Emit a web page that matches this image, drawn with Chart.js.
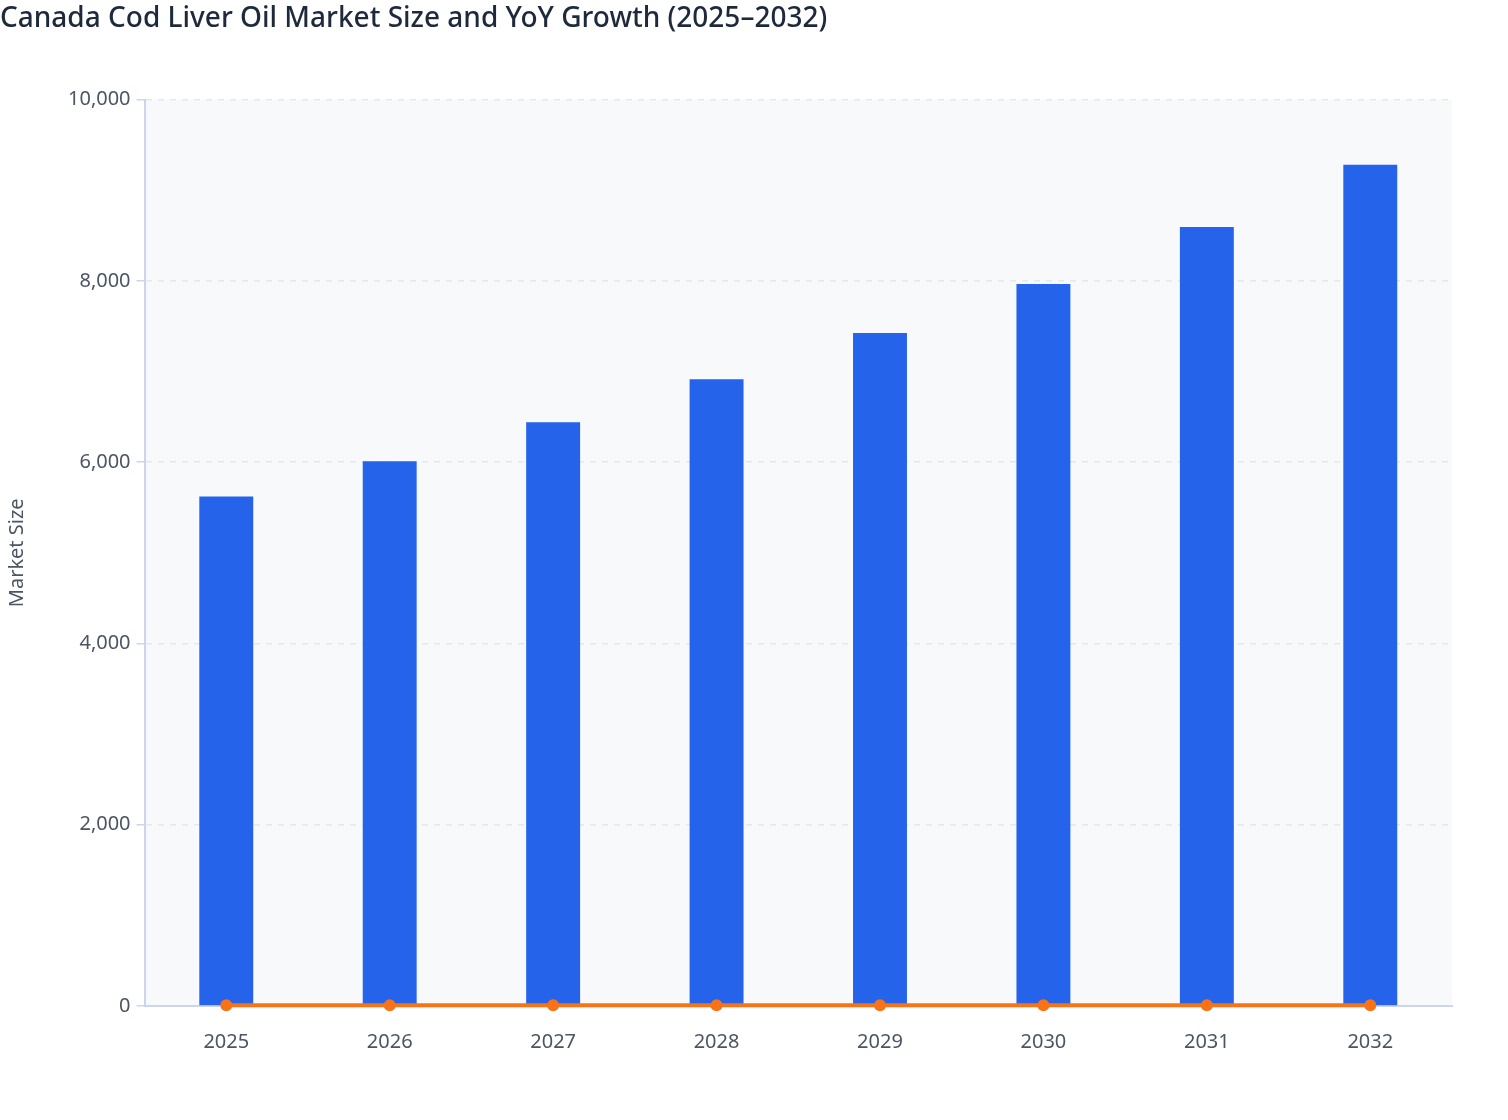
<!DOCTYPE html>
<html lang="en">
<head>
    <meta charset="UTF-8" />
    <title>Canada Cod Liver Oil Market</title>
    <script src="https://cdn.jsdelivr.net/npm/chart.js@4.4.1/dist/chart.umd.min.js"></script>
    <style>
        html, body { margin: 0; padding: 0; background: #ffffff; }
        #wrap { width: 1508px; height: 1120px; position: relative; }
    </style>
</head>
<body>
    <div id="wrap"><canvas id="myChart"></canvas></div>
    <script>
        // values
        const years = ['2025', '2026', '2027', '2028', '2029', '2030', '2031', '2032']
        const marketSize = [5620, 6010, 6440, 6915, 7425, 7965, 8595, 9280]
        const yoyGrowth = [7.0, 6.9, 7.2, 7.4, 7.4, 7.3, 7.9, 8.0]
        const yTicks = [0, 2000, 4000, 6000, 8000, 10000]

        const plotBg = {
            id: 'plotBg',
            beforeDraw(chart) {
                const a = chart.chartArea
                const ctx = chart.ctx
                ctx.save()
                ctx.fillStyle = '#f8f9fb'
                ctx.fillRect(a.left, a.top, a.right - a.left, a.bottom - a.top)
                ctx.restore()
            }
        }

        Chart.defaults.font.family = '"Noto Sans", sans-serif'

        const ctx = document.getElementById('myChart').getContext('2d')
        const chart = new Chart(ctx, {
            type: 'bar',
            data: {
                labels: years,
                datasets: [
                    {
                        type: 'line',
                        label: 'YoY Growth',
                        data: yoyGrowth,
                        borderColor: '#f97316',
                        backgroundColor: '#f97316',
                        borderWidth: 4,
                        pointRadius: 6,
                        pointHoverRadius: 6,
                        pointBorderWidth: 0,
                        fill: false,
                        clip: false,
                        tension: 0
                    },
                    {
                        label: 'Market Size',
                        data: marketSize,
                        backgroundColor: '#2563eb',
                        borderWidth: 0,
                        categoryPercentage: 0.66,
                        barPercentage: 0.5
                    }
                ]
            },
            options: {
                responsive: true,
                maintainAspectRatio: false,
                animation: false,
                layout: { padding: { left: 0, right: 56, top: 0, bottom: 54 } },
                plugins: {
                    legend: { display: false },
                    tooltip: { enabled: false },
                    title: {
                        display: true,
                        text: 'Canada Cod Liver Oil Market Size and YoY Growth (2025\u20132032)',
                        align: 'start',
                        color: '#1e293b',
                        font: { size: 28, weight: '500' },
                        padding: { top: 2, bottom: 64 }
                    }
                },
                scales: {
                    x: {
                        grid: { display: false, drawOnChartArea: false, drawTicks: true, tickLength: 12, color: '#cbd5ef' },
                        border: { color: '#cbd5ef', width: 2 },
                        ticks: { color: '#4b5563', font: { size: 20 }, padding: 12 }
                    },
                    y: {
                        min: 0,
                        max: 10000,
                        afterBuildTicks(axis) { axis.ticks = yTicks.map(v => ({ value: v })) },
                        grid: {
                            color: '#e5e7eb',
                            lineWidth: 1.5,
                            tickLength: 8,
                            tickColor: '#cbd5ef',
                            tickBorderDash: [],
                        },
                        border: { color: '#cbd5ef', width: 2, dash: [6, 6] },
                        ticks: {
                            color: '#4b5563',
                            font: { size: 20 },
                            padding: 6,
                            callback: v => v.toLocaleString('en-US')
                        },
                        title: {
                            display: true,
                            text: 'Market Size',
                            color: '#4b5563',
                            font: { size: 20 },
                            padding: { top: 5, bottom: 33 }
                        }
                    }
                }
            },
            plugins: [plotBg]
        })
    </script>
</body>
</html>
